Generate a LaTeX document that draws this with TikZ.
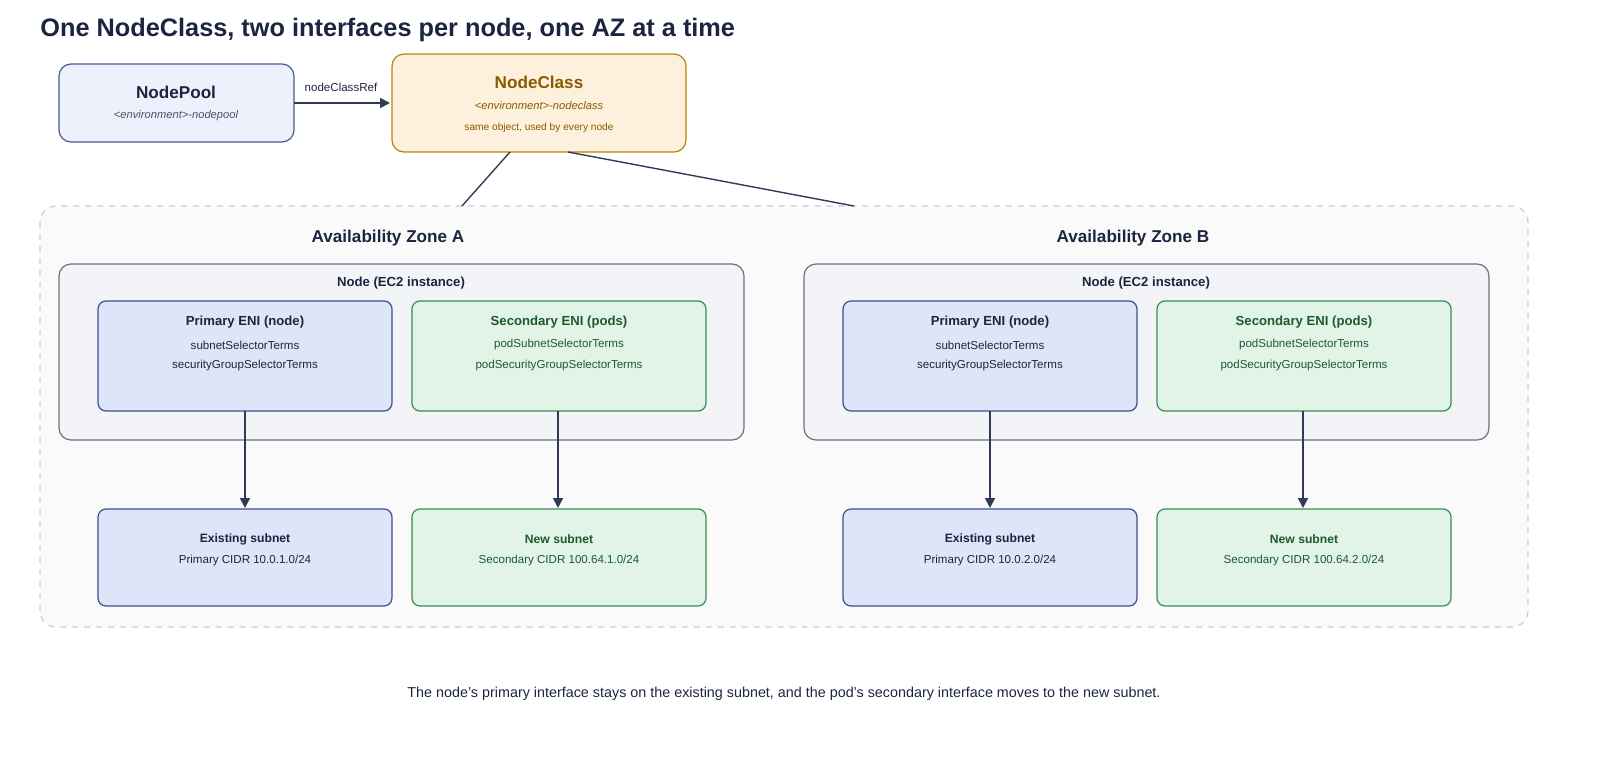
\documentclass[tikz,border=0pt]{standalone}
\usepackage{fontspec}
\setmainfont{Liberation Sans}
\usetikzlibrary{arrows.meta}
\definecolor{navy}{HTML}{1B2540}
\definecolor{pbfill}{HTML}{EEF1FB}\definecolor{pbline}{HTML}{4A5A9A}
\definecolor{ncfill}{HTML}{FDF0DC}\definecolor{ncline}{HTML}{B8860B}\definecolor{nctext}{HTML}{8A5A00}
\definecolor{azfill}{HTML}{FAFAFB}\definecolor{azline}{HTML}{C8CCD8}
\definecolor{ndfill}{HTML}{F3F4F7}\definecolor{ndline}{HTML}{6A7280}
\definecolor{bfill}{HTML}{DDE6F8}\definecolor{bline}{HTML}{3D4F8F}
\definecolor{gfill}{HTML}{E2F3E8}\definecolor{gline}{HTML}{3D8A55}\definecolor{gtext}{HTML}{1D5A2E}
\definecolor{conn}{HTML}{2E3A58}
\tikzset{
 box/.style={draw, rounded corners=4pt, line width=0.6pt},
 blue/.style={box, fill=bfill, draw=bline},
 green/.style={box, fill=gfill, draw=gline},
 t/.style={font=\fontsize{6.6}{8}\selectfont\bfseries, text=navy},
 s/.style={font=\fontsize{5.8}{7}\selectfont, text=navy},
 arr/.style={draw=conn, line width=0.8pt, -{Triangle[length=5pt,width=5pt]}},
}
\begin{document}
\begin{tikzpicture}[x=0.5bp,y=-0.5bp]
\useasboundingbox (0,0) rectangle (1600,780);
\node[anchor=west, inner sep=0pt, font=\fontsize{12.7}{14}\selectfont\bfseries, text=navy] (title) at (40,30) {One NodeClass, two interfaces per node, one AZ at a time};
% NodePool
\draw[box, fill=pbfill, draw=pbline, rounded corners=6pt] (59,64) rectangle (294,142);
\coordinate (npE) at (294,103);
\node[font=\fontsize{8.6}{10}\selectfont\bfseries, text=navy] (np) at (176,92) {NodePool};
\node[font=\fontsize{5.6}{7}\selectfont\itshape, text=navy!80] (npsub) at (176,116) {<environment>-nodepool};
% NodeClass
\draw[box, fill=ncfill, draw=ncline, rounded corners=6pt] (392,54) rectangle (686,152);
\coordinate (ncW) at (390,103);
\coordinate (ncS1) at (510,152);
\coordinate (ncS2) at (568,152);
\node[font=\fontsize{8.6}{10}\selectfont\bfseries, text=nctext] (nc) at (539,82) {NodeClass};
\node[font=\fontsize{5.6}{7}\selectfont\itshape, text=nctext] (ncsub) at (539,106) {<environment>-nodeclass};
\node[font=\fontsize{5.1}{6}\selectfont, text=nctext] (ncsub2) at (539,128) {same object, used by every node};
\draw[arr] (npE) -- (ncW);
\node[s] (ref) at (341,87) {nodeClassRef};
% AZ container
\draw[rounded corners=8pt, fill=azfill, draw=azline, dashed, line width=0.6pt] (40,206) rectangle (1528,627);
\coordinate (azA) at (462,206);
\coordinate (azB) at (854,206);
\draw[conn, line width=0.7pt] (ncS1) -- (azA);
\draw[conn, line width=0.7pt] (ncS2) -- (azB);
\foreach \o/\z/\a/\b in {0/A/1/1, 745/B/2/2}{
 \node[font=\fontsize{8.6}{10}\selectfont\bfseries, text=navy] (az\z) at (388+\o,238) {Availability Zone \z};
 \draw[box, fill=ndfill, draw=ndline, rounded corners=6pt] (59+\o,264) rectangle (744+\o,440);
 \node[t] (nd\z) at (401+\o,283) {Node (EC2 instance)};
 \draw[blue] (98+\o,301) rectangle (392+\o,411);
 \node[t] (pe\z) at (245+\o,322) {Primary ENI (node)};
 \node[s] (pe1\z) at (245+\o,345) {subnetSelectorTerms};
 \node[s] (pe2\z) at (245+\o,366) {securityGroupSelectorTerms};
 \draw[green] (412+\o,301) rectangle (706+\o,411);
 \node[t, text=gtext] (se\z) at (559+\o,322) {Secondary ENI (pods)};
 \node[s, text=gtext] (se1\z) at (559+\o,345) {podSubnetSelectorTerms};
 \node[s, text=gtext] (se2\z) at (559+\o,366) {podSecurityGroupSelectorTerms};
 \draw[blue] (98+\o,509) rectangle (392+\o,606);
 \node[font=\fontsize{6.1}{7}\selectfont\bfseries, text=navy] (es\z) at (245+\o,539) {Existing subnet};
 \node[s] (es1\z) at (245+\o,561) {Primary CIDR 10.0.\a.0/24};
 \draw[green] (412+\o,509) rectangle (706+\o,606);
 \node[font=\fontsize{6.1}{7}\selectfont\bfseries, text=gtext] (ns\z) at (559+\o,539) {New subnet};
 \node[s, text=gtext] (ns1\z) at (559+\o,561) {Secondary CIDR 100.64.\b.0/24};
 \coordinate (pb\z) at (245+\o,411); \coordinate (et\z) at (245+\o,508);
 \coordinate (sb\z) at (558+\o,411); \coordinate (nt\z) at (558+\o,508);
 \draw[arr] (pb\z) -- (et\z);
 \draw[arr] (sb\z) -- (nt\z);
}
\node[font=\fontsize{7.2}{8}\selectfont, text=navy] (cap) at (784,694) {The node's primary interface stays on the existing subnet, and the pod's secondary interface moves to the new subnet.};
\end{tikzpicture}
\end{document}
